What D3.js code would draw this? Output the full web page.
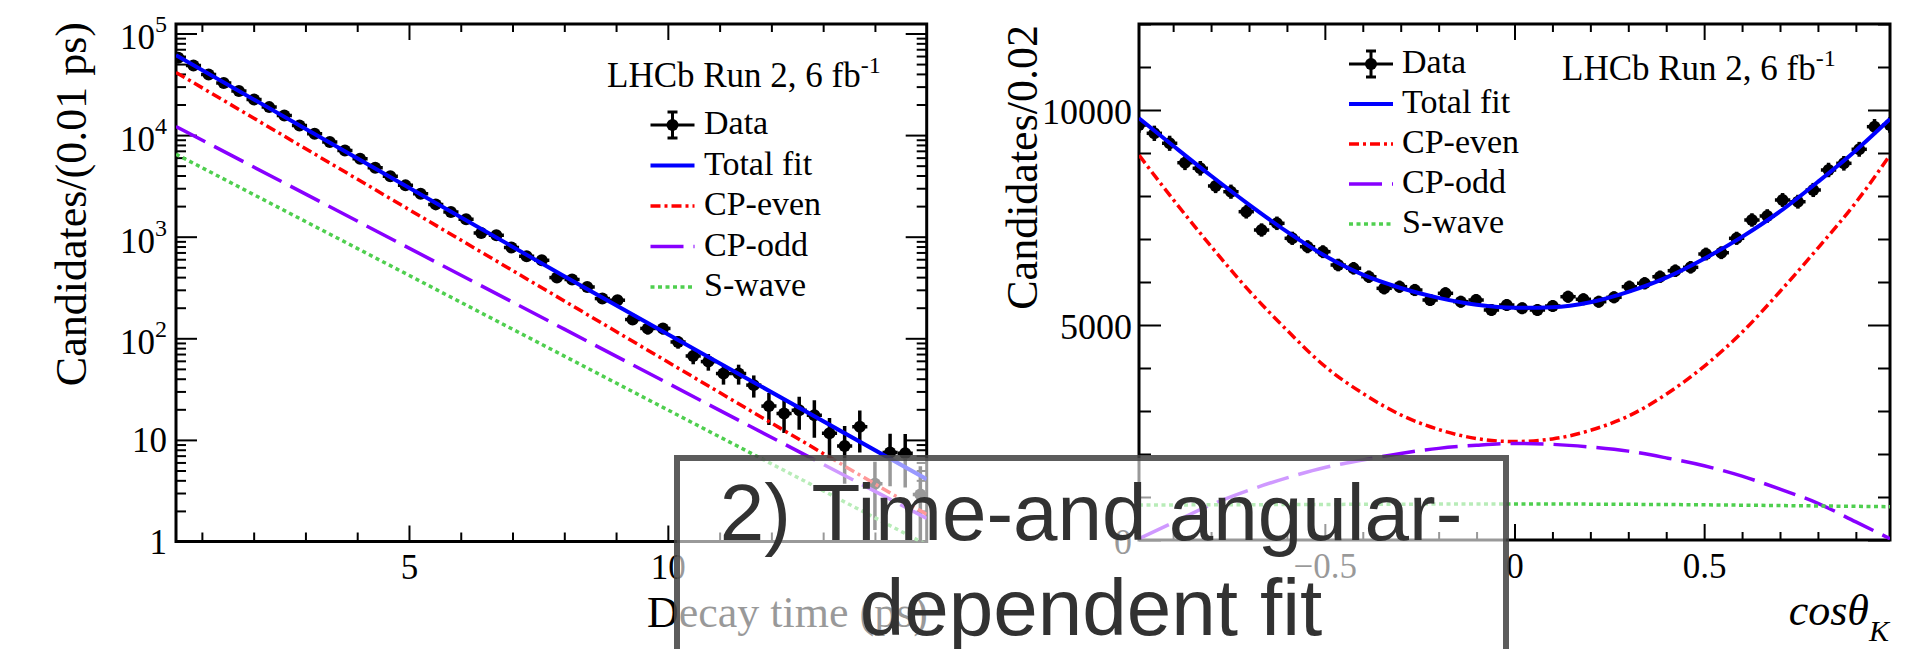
<!DOCTYPE html>
<html>
<head>
<meta charset="utf-8">
<script src="https://cdn.jsdelivr.net/npm/d3@7"></script>
<style>
  body { margin: 0; background: #fff; }
  svg { display: block; }
</style>
</head>
<body>
<div id="chart"></div>
<script>
'use strict';

/* ---- decay time panel (log scale) ---- */
const timeStart = 0.545, timeStep = 0.2925;   // bin centre of first point, spacing
const timeCounts = [57700, 48400, 39500, 32500, 27100, 22400, 18850, 15600, 12460, 10320,
    8540, 7070, 5860, 4780, 3925, 3200, 2650, 2080, 1750, 1483,
    1087, 1032, 781, 641, 586, 396, 379, 320, 246, 237,
    153, 125, 125, 92, 67, 59, 45, 45, 34.6, 21.5,
    18.2, 19.6, 17.5, 11.6, 8.7, 13.5, 3.7, 7.5, 7.4, 2.9];
const timeErrors = [336, 308, 278, 252, 230, 210, 192, 175, 156, 142,
    129, 118, 107, 97, 88, 79, 72, 64, 59, 54,
    46, 45, 39, 35, 34, 28, 27, 25, 22, 22,
    17, 16, 16, 13, 11.5, 11, 10, 10, 8.5, 7.5,
    6.5, 7, 7, 4.8, 5, 6, 2.4, 4, 4, 2.6];
const timeFitT = [0.5, 4, 8, 11.5, 15];
const timeFitTotal = [61200, 5915, 408, 41.0, 4.1];
const timeFitEven = [41400, 3690, 233, 20.7, 1.85];
const timeFitOdd = [12160, 1426, 123, 14.4, 1.69];
const timeFitSwave = [6490, 767, 66.8, 7.9, 0.93];

/* ---- cos(theta_K) panel ---- */
const cosStart = -0.99, cosStep = 0.0404;
const cosCounts = [9651, 9458, 9226, 8774, 8644, 8233, 8100, 7635, 7209, 7365,
    7016, 6821, 6705, 6395, 6319, 6123, 5853, 5891, 5814, 5581,
    5737, 5542, 5581, 5349, 5465, 5388, 5349, 5442, 5658, 5598,
    5542, 5644, 5891, 5970, 6123, 6263, 6342, 6651, 6681, 7016,
    7442, 7535, 7907, 7867, 8140, 8605, 8760, 9086, 9612, 9651];
const cosErrors = [180, 178, 176, 172, 170, 166, 165, 160, 155, 157,
    154, 152, 150, 147, 146, 144, 141, 141, 141, 138,
    140, 138, 138, 136, 137, 136, 136, 137, 139, 138,
    138, 139, 141, 142, 144, 145, 146, 149, 149, 153,
    157, 158, 162, 161, 164, 168, 170, 173, 178, 180];
const cosFitX = [-0.99, -0.9, -0.8, -0.7, -0.6, -0.5, -0.4, -0.3, -0.2, -0.1, 0,
    0.1, 0.2, 0.3, 0.4, 0.5, 0.6, 0.7, 0.8, 0.9, 0.99];
const cosFitTotal = [9810, 9170, 8470, 7800, 7170, 6610, 6170, 5860, 5630, 5470, 5400,
    5415, 5530, 5770, 6100, 6540, 7050, 7640, 8330, 9060, 9790];
const cosFitEven = [8950, 7920, 6830, 5800, 4880, 4040, 3410, 2910, 2570, 2360, 2290,
    2350, 2550, 2880, 3390, 4040, 4830, 5780, 6790, 7850, 8950];
const cosFitOdd = [30, 405, 821, 1159, 1445, 1686, 1860, 2013, 2131, 2204, 2245,
    2225, 2163, 2067, 1910, 1726, 1484, 1183, 853, 421, 30];
const cosFitSwave = [814, 816, 818, 821, 824, 827, 830, 833, 835, 836, 837,
    836, 834, 830, 825, 818, 810, 801, 792, 783, 775];

const legendLabels = ['Data', 'Total fit', 'CP-even', 'CP-odd', 'S-wave'];

const SERIF = '"Liberation Serif", "Times New Roman", serif';
const STYLES = {
    total: { color: '#0000ff', width: 4, dash: null },
    even: { color: '#ff0000', width: 3.5, dash: '10,4,3,4' },
    odd: { color: '#8800ff', width: 3.5, dash: '33,10' },
    swave: { color: '#4fcf4f', width: 3.5, dash: '4,3.5' },
};

const svg = d3.select('#chart').append('svg')
    .attr('width', 1917).attr('height', 649)
    .style('background', '#fff');
const defs = svg.append('defs');

/**
 * Inward pointing ticks, ROOT style, without the domain path
 */
function ticks(g, axisFn, scale, values, size, transform) {
    return g.append('g')
        .attr('transform', transform)
        .call(axisFn(scale).tickValues(values).tickSize(-size).tickSizeOuter(0).tickFormat(''))
        .call(a => a.select('.domain').remove())
        .call(a => a.selectAll('line').attr('stroke', '#000').attr('stroke-width', 2));
}

function frame(g, x, y, id) {
    const [x0, x1] = x.range(), [y0, y1] = y.range();
    defs.append('clipPath').attr('id', id)
        .append('rect').attr('x', x0).attr('y', y1).attr('width', x1 - x0).attr('height', y0 - y1);
    g.append('rect')
        .attr('x', x0).attr('y', y1).attr('width', x1 - x0).attr('height', y0 - y1)
        .attr('fill', 'none').attr('stroke', '#000').attr('stroke-width', 3);
}

function drawData(g, x, y, xs, vals, errs, halfW, clipId) {
    const yMin = y.domain()[0];
    const pts = g.append('g').attr('clip-path', `url(#${clipId})`)
        .selectAll('g').data(d3.zip(xs, vals, errs)).join('g');
    pts.append('line')
        .attr('x1', d => x(d[0]) - halfW).attr('x2', d => x(d[0]) + halfW)
        .attr('y1', d => y(d[1])).attr('y2', d => y(d[1]));
    pts.append('line')
        .attr('x1', d => x(d[0])).attr('x2', d => x(d[0]))
        .attr('y1', d => y(Math.max(d[1] - d[2], yMin > 0 ? yMin * 0.3 : yMin)))
        .attr('y2', d => y(d[1] + d[2]));
    pts.selectAll('line').attr('stroke', '#000').attr('stroke-width', 3.5);
    pts.append('circle')
        .attr('cx', d => x(d[0])).attr('cy', d => y(d[1])).attr('r', 6)
        .attr('fill', '#000');
}

function drawCurve(g, x, y, xs, vals, style, curve, clipId) {
    const line = d3.line().x(d => x(d[0])).y(d => y(d[1])).curve(curve);
    g.append('path')
        .attr('clip-path', `url(#${clipId})`)
        .attr('d', line(d3.zip(xs, vals)))
        .attr('fill', 'none')
        .attr('stroke', style.color)
        .attr('stroke-width', style.width)
        .attr('stroke-dasharray', style.dash);
}

function legend(g, cx, baseline0, textX, step, lhcb) {
    const styles = [null, STYLES.total, STYLES.even, STYLES.odd, STYLES.swave];
    legendLabels.forEach((label, i) => {
        const base = baseline0 + step * i, ly = base - 9;
        if (i === 0) {
            g.append('line').attr('x1', cx - 22).attr('x2', cx + 22).attr('y1', ly).attr('y2', ly);
            g.append('line').attr('x1', cx).attr('x2', cx).attr('y1', ly - 13).attr('y2', ly + 13);
            g.append('line').attr('x1', cx - 5).attr('x2', cx + 5).attr('y1', ly - 13).attr('y2', ly - 13);
            g.append('line').attr('x1', cx - 5).attr('x2', cx + 5).attr('y1', ly + 13).attr('y2', ly + 13);
            g.selectAll('line').attr('stroke', '#000').attr('stroke-width', 3);
            g.append('circle').attr('cx', cx).attr('cy', ly).attr('r', 6).attr('fill', '#000');
        } else {
            const s = styles[i];
            g.append('line').attr('x1', cx - 22).attr('x2', cx + 22).attr('y1', ly).attr('y2', ly)
                .attr('stroke', s.color).attr('stroke-width', s.width).attr('stroke-dasharray', s.dash);
        }
        g.append('text').attr('x', textX).attr('y', base)
            .attr('font-family', SERIF).attr('font-size', 34).text(label);
    });
    const t = g.append('text').attr('x', lhcb[0]).attr('y', lhcb[1])
        .attr('font-family', SERIF).attr('font-size', 35);
    t.append('tspan').text('LHCb Run 2, 6 fb');
    t.append('tspan').attr('dy', -14).attr('font-size', 24).text('-1');
}

/* ================= left panel ================= */
const timeX = d3.scaleLinear().domain([0.5, 15]).range([176, 926.7]);
const timeY = d3.scaleLog().domain([1, 1.24e5]).range([541.5, 24]);
const gL = svg.append('g');
const timeCenters = timeCounts.map((_, i) => timeStart + timeStep * i);

const decades = [1, 10, 1e2, 1e3, 1e4, 1e5];
const logMinor = d3.merge(decades.slice(0, 5).map(d => d3.range(2, 10).map(k => k * d)));
const tMinor = d3.range(1, 15).filter(v => v % 5 !== 0);

ticks(gL, d3.axisBottom, timeX, tMinor, 9, 'translate(0,541.5)');
ticks(gL, d3.axisTop, timeX, tMinor, 8, 'translate(0,24)');
ticks(gL, d3.axisTop, timeX, [5, 10], 16, 'translate(0,24)');
ticks(gL, d3.axisLeft, timeY, logMinor, 10, 'translate(176,0)');
ticks(gL, d3.axisLeft, timeY, decades, 21, 'translate(176,0)');
ticks(gL, d3.axisRight, timeY, logMinor, 10, 'translate(926.7,0)');
ticks(gL, d3.axisRight, timeY, decades, 21, 'translate(926.7,0)');
ticks(gL, d3.axisBottom, timeX, [5, 10], 16, 'translate(0,541.5)')
    .call(a => a.selectAll('text')
        .text(d => d).attr('y', 37).attr('dy', null)
        .attr('font-family', SERIF).attr('font-size', 35).attr('fill', '#000'));
gL.append('g').selectAll('text').data(decades).join('text')
    .attr('x', 167).attr('text-anchor', 'end')
    .attr('font-family', SERIF).attr('font-size', 35)
    .attr('y', d => timeY(d) + (d >= 100 ? 16 : 12))
    .each(function (d) {
        const e = Math.round(Math.log10(d)), t = d3.select(this);
        if (e < 2) { t.text(e === 0 ? '1' : '10'); return; }
        t.append('tspan').text('10');
        t.append('tspan').attr('dy', -17).attr('font-size', 24).text(e);
    });

drawData(gL, timeX, timeY, timeCenters, timeCounts, timeErrors, timeStep / 2 * 51.77, 'clipL');
frame(gL, timeX, timeY, 'clipL');
drawCurve(gL, timeX, timeY, timeFitT, timeFitEven, STYLES.even, d3.curveLinear, 'clipL');
drawCurve(gL, timeX, timeY, timeFitT, timeFitOdd, STYLES.odd, d3.curveLinear, 'clipL');
drawCurve(gL, timeX, timeY, timeFitT, timeFitSwave, STYLES.swave, d3.curveLinear, 'clipL');
drawCurve(gL, timeX, timeY, timeFitT, timeFitTotal, STYLES.total, d3.curveLinear, 'clipL');

gL.append('text').attr('transform', 'translate(86,22) rotate(-90)')
    .attr('text-anchor', 'end').attr('font-family', SERIF).attr('font-size', 44)
    .text('Candidates/(0.01 ps)');
gL.append('text').attr('x', 928).attr('y', 627)
    .attr('text-anchor', 'end').attr('font-family', SERIF).attr('font-size', 44)
    .text('Decay time (ps)');
legend(gL.append('g'), 672.5, 134, 704, 40.5, [607, 87]);

/* ================= right panel ================= */
const cosX = d3.scaleLinear().domain([-0.99, 0.99]).range([1139, 1890]);
const cosY = d3.scaleLinear().domain([0, 12000]).range([540, 24]);
const gR = svg.append('g');
const cosCenters = cosCounts.map((_, i) => cosStart + cosStep * i);

const cMajor = [-0.5, 0, 0.5];
const cMinor = d3.range(-9, 10).map(i => i / 10).filter(v => !cMajor.includes(v));
const yMajor = [0, 5000, 10000];
const yMinor = d3.range(1000, 12001, 1000).filter(v => !yMajor.includes(v));

ticks(gR, d3.axisBottom, cosX, cMinor, 8, 'translate(0,540)');
ticks(gR, d3.axisTop, cosX, cMinor, 8, 'translate(0,24)');
ticks(gR, d3.axisTop, cosX, cMajor, 16, 'translate(0,24)');
ticks(gR, d3.axisLeft, cosY, yMinor, 12, 'translate(1139,0)');
ticks(gR, d3.axisRight, cosY, yMinor, 12, 'translate(1890,0)');
ticks(gR, d3.axisRight, cosY, yMajor, 22, 'translate(1890,0)');
ticks(gR, d3.axisBottom, cosX, cMajor, 16, 'translate(0,540)')
    .call(a => a.selectAll('text')
        .text(d => d === 0 ? '0' : d3.format('.1f')(d)).attr('y', 38).attr('dy', null)
        .attr('font-family', SERIF).attr('font-size', 35).attr('fill', '#000'));
ticks(gR, d3.axisLeft, cosY, yMajor, 22, 'translate(1139,0)')
    .call(a => a.selectAll('text')
        .text(d => d).attr('x', -7).attr('y', 13).attr('dy', null).attr('text-anchor', 'end')
        .attr('font-family', SERIF).attr('font-size', 36).attr('fill', '#000'));

drawData(gR, cosX, cosY, cosCenters, cosCounts, cosErrors, cosStep / 2 * 379.3, 'clipR');
frame(gR, cosX, cosY, 'clipR');
drawCurve(gR, cosX, cosY, cosFitX, cosFitEven, STYLES.even, d3.curveMonotoneX, 'clipR');
drawCurve(gR, cosX, cosY, cosFitX, cosFitOdd, STYLES.odd, d3.curveMonotoneX, 'clipR');
drawCurve(gR, cosX, cosY, cosFitX, cosFitSwave, STYLES.swave, d3.curveMonotoneX, 'clipR');
drawCurve(gR, cosX, cosY, cosFitX, cosFitTotal, STYLES.total, d3.curveMonotoneX, 'clipR');

gR.append('text').attr('transform', 'translate(1037,25) rotate(-90)')
    .attr('text-anchor', 'end').attr('font-family', SERIF).attr('font-size', 44)
    .text('Candidates/0.02');
const xt = gR.append('text').attr('x', 1889).attr('y', 625)
    .attr('text-anchor', 'end').attr('font-family', SERIF).attr('font-style', 'italic')
    .attr('font-size', 44);
xt.append('tspan').text('cosθ');
xt.append('tspan').attr('dy', 16).attr('font-size', 30).text('K');
legend(gR.append('g'), 1371, 73, 1402, 40, [1562, 80]);

/* ================= overlay caption ================= */
const cap = svg.append('g');
cap.append('rect')
    .attr('x', 677).attr('y', 458).attr('width', 829).attr('height', 260)
    .attr('fill', 'rgba(255,255,255,0.6)')
    .attr('stroke', 'rgba(70,70,70,0.88)').attr('stroke-width', 6);
cap.selectAll('text').data(['2) Time-and angular-', 'dependent fit']).join('text')
    .attr('x', 1091).attr('y', (d, i) => 540 + 95 * i)
    .attr('text-anchor', 'middle')
    .attr('font-family', '"Liberation Sans", Arial, Helvetica, sans-serif')
    .attr('font-size', 80).attr('fill', '#323232')
    .text(d => d);
</script>
</body>
</html>
